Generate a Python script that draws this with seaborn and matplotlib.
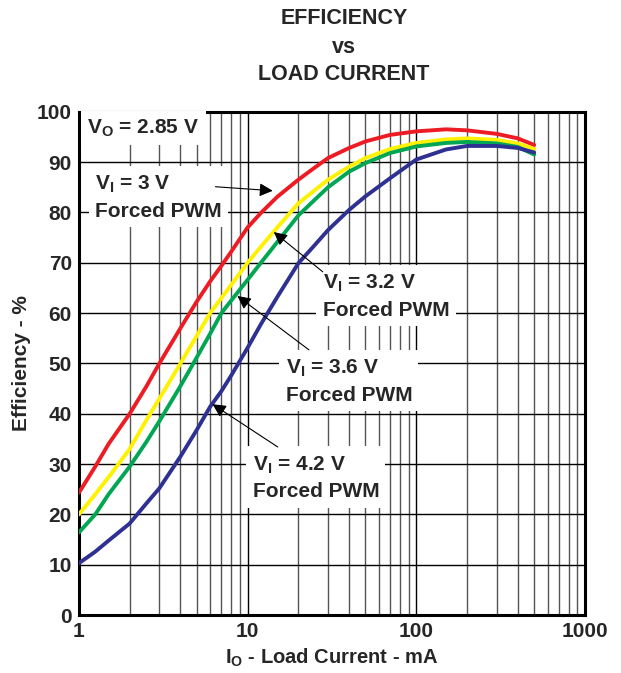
import numpy as np
import pandas as pd
import matplotlib
matplotlib.use("Agg")
import matplotlib.pyplot as plt
from matplotlib.ticker import FixedLocator, LogLocator, NullFormatter
import seaborn as sns

# Data
LOAD_CURRENT_MA = [1, 1.25, 1.5, 2, 2.5, 3, 4, 5, 6, 7, 8, 10, 12, 15, 20, 25, 30, 40, 50,
                   70, 100, 150, 200, 300, 400, 500]
EFF_VI_3_0 = [24.3, 29.5, 34.0, 40.0, 45.3, 50.0, 57.0, 62.3, 66.3, 69.4, 72.2, 77.0, 79.9, 83.1,
              86.5, 88.9, 90.8, 92.8, 94.1, 95.4, 96.1, 96.5, 96.3, 95.6, 94.7, 93.4]
EFF_VI_3_2 = [20.0, 24.0, 27.4, 33.0, 38.6, 43.0, 50.0, 55.5, 60.0, 63.0, 65.6, 70.0, 73.2, 77.0,
              81.8, 84.4, 86.5, 89.1, 90.8, 92.6, 93.8, 94.5, 94.7, 94.4, 93.7, 92.6]
EFF_VI_3_6 = [16.4, 20.0, 24.0, 29.5, 34.3, 38.5, 45.5, 51.2, 55.9, 60.0, 62.5, 66.6, 70.0, 74.1,
              79.4, 82.5, 85.0, 88.1, 89.8, 91.8, 93.1, 93.8, 94.0, 93.7, 93.0, 91.5]
EFF_VI_4_2 = [10.3, 12.6, 14.8, 18.2, 22.1, 25.2, 31.5, 36.8, 41.4, 44.5, 47.6, 53.1, 57.8, 63.2,
              69.9, 73.5, 76.5, 80.5, 83.2, 86.8, 90.5, 92.5, 93.2, 93.2, 92.8, 91.9]

SERIES_NAMES = ["3 V", "3.2 V", "3.6 V", "4.2 V"]
SERIES_COLORS = ["#ED1C24", "#FFF200", "#00A651", "#2E3192"]

X_TICKS = [1, 10, 100, 1000]
X_TICK_LABELS = ["1", "10", "100", "1000"]
Y_TICKS = list(range(0, 101, 10))


def build_frame() -> pd.DataFrame:
    """Stack the four efficiency series into a long table for seaborn."""
    frames = []
    for name, values in zip(SERIES_NAMES, [EFF_VI_3_0, EFF_VI_3_2, EFF_VI_3_6, EFF_VI_4_2]):
        frames.append(pd.DataFrame({"current": LOAD_CURRENT_MA, "efficiency": values, "vin": name}))
    return pd.concat(frames, ignore_index=True)


def main():
    sns.set_style("white")
    plt.rcParams["font.family"] = ["Liberation Sans", "DejaVu Sans"]
    plt.rcParams["font.weight"] = "bold"
    plt.rcParams["mathtext.fontset"] = "custom"
    plt.rcParams["mathtext.rm"] = "Liberation Sans:bold"
    plt.rcParams["mathtext.bf"] = "Liberation Sans:bold"

    df = build_frame()

    fig = plt.figure(figsize=(6.21, 6.73), dpi=100)
    ax = fig.add_axes([0.127, 0.086, 0.815, 0.748])

    ax.set_xscale("log")
    ax.set_xlim(1, 1000)
    ax.set_ylim(0, 100)

    # Grid: decades and minor decades on x, every 10 % on y
    ax.xaxis.set_major_locator(FixedLocator(X_TICKS))
    ax.xaxis.set_minor_locator(LogLocator(base=10, subs=np.arange(2, 10)))
    ax.xaxis.set_minor_formatter(NullFormatter())
    ax.set_xticks(X_TICKS)
    ax.set_xticklabels(X_TICK_LABELS)
    ax.set_yticks(Y_TICKS)
    ax.grid(which="major", axis="both", color="black", linewidth=1.0)
    ax.grid(which="minor", axis="x", color="#555555", linewidth=1.0)
    ax.set_axisbelow(True)

    sns.lineplot(data=df, x="current", y="efficiency", hue="vin", hue_order=SERIES_NAMES,
                 palette=SERIES_COLORS, linewidth=2.8, legend=False, ax=ax, zorder=3)

    for spine in ax.spines.values():
        spine.set_color("black")
        spine.set_linewidth(2.2)
    ax.tick_params(which="both", length=0, labelsize=15, pad=5)
    for lbl in ax.get_xticklabels() + ax.get_yticklabels():
        lbl.set_fontweight("bold")

    ax.set_xlabel(r"I$_\mathregular{O}$ - Load Current - mA", fontsize=14.5, fontweight="bold", labelpad=4)
    ax.set_ylabel("Efficiency - %", fontsize=15, fontweight="bold", labelpad=4)

    fig.text(0.554, 0.972, "EFFICIENCY", ha="center", va="center", fontsize=15.5, fontweight="bold")
    fig.text(0.554, 0.930, "vs", ha="center", va="center", fontsize=15.5, fontweight="bold")
    fig.text(0.554, 0.889, "LOAD CURRENT", ha="center", va="center", fontsize=15.5, fontweight="bold")

    box = dict(boxstyle="square,pad=0.3", facecolor="white", edgecolor="none")
    arrow = dict(arrowstyle="-|>", color="black", lw=0.8, mutation_scale=20, shrinkA=0, shrinkB=0)

    ax.text(1.12, 96.8, r"V$_\mathregular{O}$ = 2.85 V", fontsize=15, fontweight="bold",
            va="center", ha="left", bbox=box, zorder=5)

    labels = [
        (r"V$_\mathregular{I}$ = 3 V", (1.245, 83.0), (6.45, 85.1), (14.1, 84.3)),
        (r"V$_\mathregular{I}$ = 3.2 V", (27.9, 63.3), (27.9, 68.2), (14.3, 76.1)),
        (r"V$_\mathregular{I}$ = 3.6 V", (16.8, 46.5), (23.1, 52.7), (8.7, 63.4)),
        (r"V$_\mathregular{I}$ = 4.2 V", (10.7, 27.3), (15.1, 33.4), (6.2, 41.9)),
    ]
    for text, text_pos, tail, head in labels:
        ax.text(text_pos[0], text_pos[1], text + "\nForced PWM", fontsize=15, fontweight="bold",
                va="center", ha="left", linespacing=1.45, bbox=box, zorder=5)
        ax.annotate("", xy=head, xytext=tail, arrowprops=arrow, zorder=6)

    fig.savefig("out.png", dpi=100)


if __name__ == "__main__":
    main()
